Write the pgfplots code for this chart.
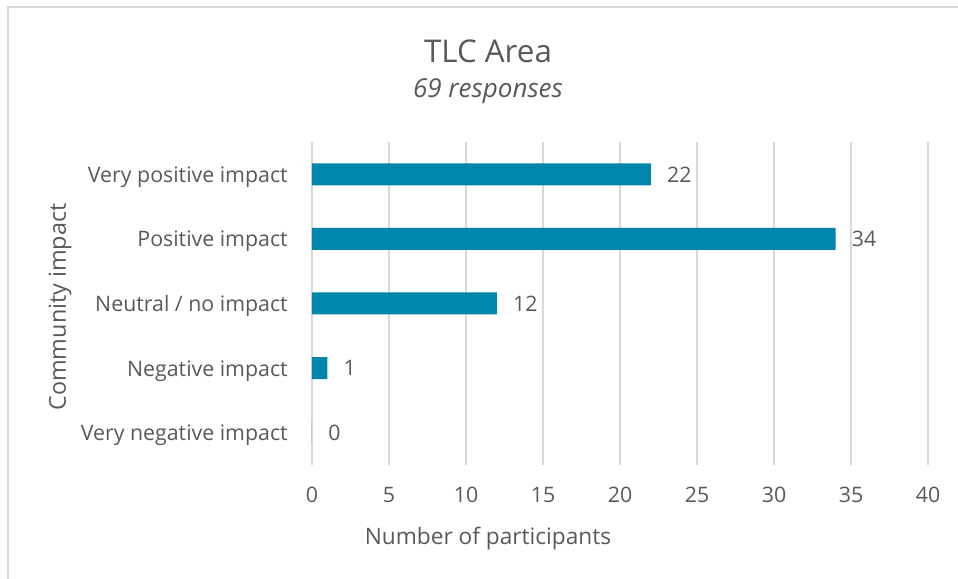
\documentclass[border=0pt]{standalone}
\usepackage{pgfplots}
\pgfplotsset{compat=1.18}
\usepackage{fontspec}
\setmainfont{Open Sans}
\definecolor{barblue}{HTML}{0086AD}
\definecolor{txtgray}{HTML}{595959}
\definecolor{gridgray}{HTML}{D9D9D9}
\definecolor{framegray}{HTML}{D9D9D9}

\begin{document}
\begin{tikzpicture}
% page = 958 x 579 px, 1 px = 0.75 pt
\useasboundingbox (0,0) rectangle (718.5pt,434.25pt);
\draw[framegray, line width=1pt] (6pt,0) -- (6pt,429pt) -- (718.5pt,429pt);

\begin{axis}[
    at={(234pt,85.5pt)}, anchor=south west,
    scale only axis,
    width=462pt, height=242.25pt,
    xbar, bar width=16.5pt,
    xmin=0, xmax=40,
    ymin=-0.5, ymax=4.5,
    xtick={0,5,...,40},
    ytick={0,1,2,3,4},
    yticklabels={Very negative impact, Negative impact, Neutral / no impact,
                 Positive impact, Very positive impact},
    axis line style={draw=none},
    major tick length=0pt,
    xmajorgrids, grid style={gridgray, line width=1pt},
    tick label style={font=\fontsize{16}{19}\selectfont, text=txtgray},
    /pgf/number format/assume math mode=true,
    xticklabel style={anchor=base, inner sep=0pt, yshift=-28.5pt},
    yticklabel style={anchor=base east, inner sep=0pt, xshift=-18pt, yshift=-6pt},
    nodes near coords,
    nodes near coords style={font=\fontsize{16}{19}\selectfont, text=txtgray,
                             anchor=west, inner sep=0pt, xshift=12pt},
    clip=false,
]
\addplot[fill=barblue, draw=none] coordinates {
    (0,0) (1,1) (12,2) (34,3) (22,4)
};
\end{axis}

% titles and axis names
\node[anchor=base, text=txtgray, font=\fontsize{23.5}{28}\selectfont]
    at (366pt,387pt) {TLC Area};
\node[anchor=base, text=txtgray, font=\fontsize{19.5}{23}\selectfont\itshape]
    at (366pt,361pt) {69 responses};
\node[text=txtgray, font=\fontsize{17}{20}\selectfont]
    at (366pt,30pt) {Number of participants};
\node[rotate=90, text=txtgray, font=\fontsize{17.5}{20}\selectfont]
    at (45pt,204pt) {Community impact};
\end{tikzpicture}
\end{document}
